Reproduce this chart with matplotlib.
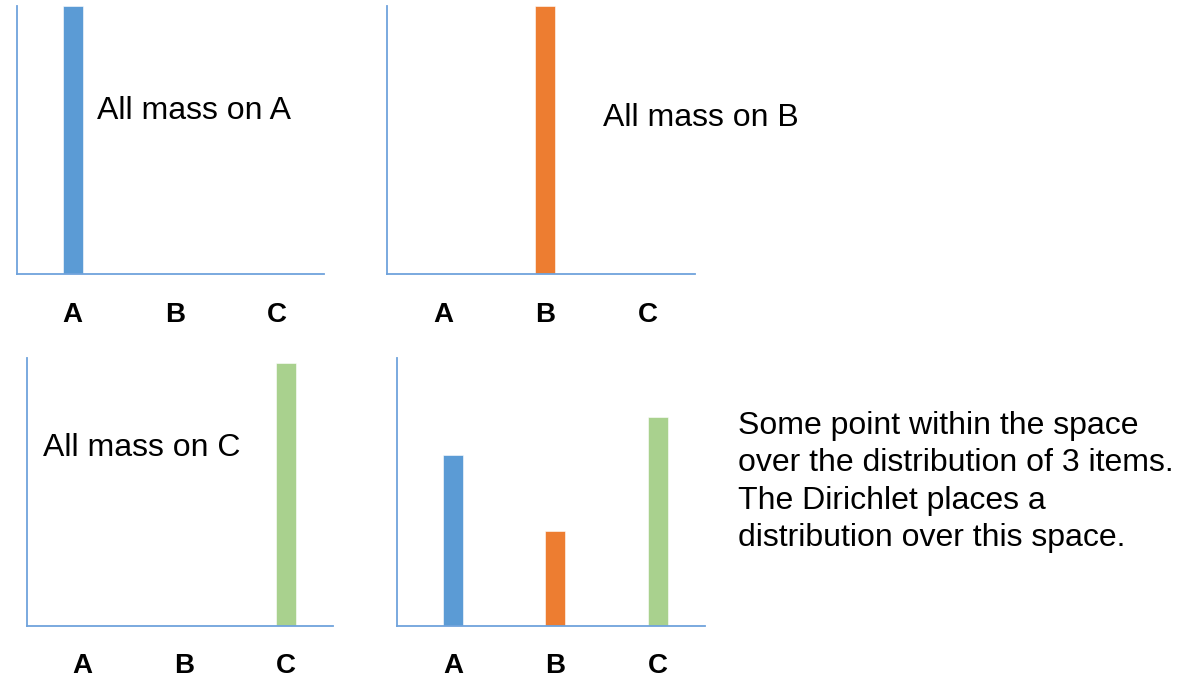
import numpy as np
import matplotlib
matplotlib.use('Agg')
import matplotlib.pyplot as plt

plt.rcParams['font.family'] = ['Liberation Sans', 'DejaVu Sans']

# Data
categories = ['A', 'B', 'C']
mass_a = [1.0, 0.0, 0.0]
mass_b = [0.0, 1.0, 0.0]
mass_c = [0.0, 0.0, 0.98]
mass_mix = [0.36, 0.20, 0.44]
mix_ymax = 0.5625

bar_colors = ['#5b9bd5', '#ed7d31', '#a9d18e']
axis_color = '#6fa3dc'

W, H = 1199, 679


def px_axes(fig, left, right, top, bottom):
    # axes rect from pixel edges (origin top-left)
    return fig.add_axes([left / W, 1 - bottom / H, (right - left) / W, (bottom - top) / H])


def draw_panel(ax, values, ymax=1.0, label=None, label_xy=None):
    x = np.arange(len(categories))
    ax.bar(x, values, width=0.196, color=bar_colors, edgecolor='white', linewidth=0.4)
    ax.set_xlim(-0.55, 2.46)
    ax.set_ylim(0, ymax)
    ax.set_xticks(x)
    ax.set_xticklabels(categories, fontsize=20, fontweight='bold')
    ax.tick_params(axis='x', length=0, pad=20)
    ax.set_yticks([])
    for s in ['top', 'right']:
        ax.spines[s].set_visible(False)
    for s in ['left', 'bottom']:
        ax.spines[s].set_color(axis_color)
        ax.spines[s].set_linewidth(1.3)
    if label:
        ax.text(label_xy[0], label_xy[1], label, transform=ax.transAxes,
                fontsize=23, ha='left', va='center')


fig = plt.figure(figsize=(W / 100, H / 100), dpi=100)

ax1 = px_axes(fig, 16.5, 324, 6, 274)
draw_panel(ax1, mass_a, label='All mass on A', label_xy=(0.262, 0.607))

ax2 = px_axes(fig, 386.7, 695, 6, 274)
draw_panel(ax2, mass_b, label='All mass on B', label_xy=(0.7016, 0.582))

ax3 = px_axes(fig, 26.7, 333, 358, 625.7)
draw_panel(ax3, mass_c, label='All mass on C', label_xy=(0.053, 0.664))

ax4 = px_axes(fig, 396.7, 705, 358.3, 625.7)
draw_panel(ax4, mass_mix, ymax=mix_ymax)

fig.text(738 / W, 1 - 482 / H,
         'Some point within the space\nover the distribution of 3 items.\n'
         'The Dirichlet places a\ndistribution over this space.',
         fontsize=23, ha='left', va='center', linespacing=1.32)

fig.savefig('out.png', dpi=100)
